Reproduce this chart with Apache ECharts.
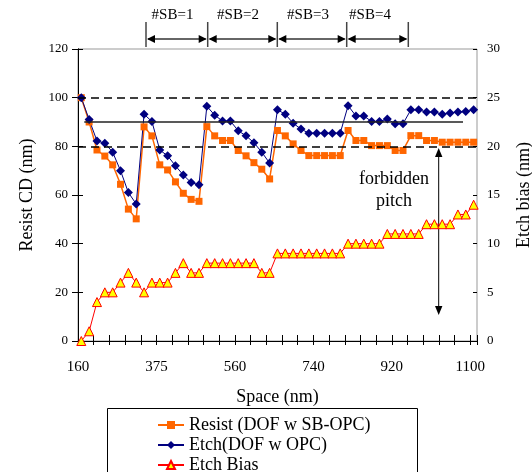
<!DOCTYPE html>
<html><head><meta charset="utf-8">
<script src="https://cdn.jsdelivr.net/npm/echarts@6/dist/echarts.min.js"></script>
<style>html,body{margin:0;padding:0;background:#fff}#c{width:532px;height:472px}</style>
</head><body><div id="c"></div>
<script>
const spaceLabels = ['160','375','560','740','920','1100'];
const seriesNames = ['Resist (DOF w SB-OPC)', 'Etch(DOF w OPC)', 'Etch Bias'];
const resistCD = [100,90,78.5,76,72.4,64.4,54.2,50.2,88,84.3,72.4,70.3,65.4,60.7,58.2,57.4,
  88.1,84.3,82.4,82.4,78.3,76.1,73.3,70.6,66.6,86.5,84.3,81,78.3,76.2,76.2,76.2,76.2,76.2,
  86.5,82.4,82.4,80.3,80.3,80.3,78.3,78.3,84.4,84.4,82.4,82.4,81.7,81.7,81.7,81.7,81.7];
const etchCD = [100,91,82.2,81.3,77.6,70,61,56.3,93.2,90.2,78.5,76.1,72,68.2,65.1,64.2,
  96.5,92.8,90.4,90.4,86.4,84.3,81.5,77.6,73.1,95,93.2,89.5,87.1,85.4,85.4,85.4,85.4,85.4,
  96.7,92.5,92.5,90.2,90.2,91.2,89.3,89.3,95,95,94.1,94.1,93.2,93.7,94.1,94.3,95];
const etchBias = [0,1,4,5,5,6,7,6,5,6,6,6,7,8,7,7,8,8,8,8,8,8,8,7,7,9,9,9,9,9,9,9,9,9,
  10,10,10,10,10,11,11,11,11,11,12,12,12,12,13,13,14];
const dashedLevels = [100, 80];
const solidLevel = 90;
const sbLabels = ['#SB=1','#SB=2','#SB=3','#SB=4'];
const forbiddenText = ['forbidden','pitch'];

const FONT = '"Liberation Serif", "Times New Roman", serif';
const OFFSET = 0.42, XMAX = 50.85;
const toPts = arr => arr.map((v, i) => [i + OFFSET, v]);

const xLabel = v => {
  const r = Math.round(v);
  if (Math.abs(v - r) < 1e-6 && r % 10 === 0 && r / 10 < spaceLabels.length) return spaceLabels[r / 10];
  return '';
};

const chart = echarts.init(document.getElementById('c'), null, {renderer: 'canvas'});

const axisLine = {show: true, lineStyle: {color: '#000', width: 1}};
const legendTops = [416, 436, 456];

const option = {
  animation: false,
  backgroundColor: '#fff',
  grid: {left: 78, right: 55, top: 49, bottom: 131, show: true, borderColor: '#999', borderWidth: 1,
         containLabel: false, outerBoundsMode: 'none'},
  legend: seriesNames.map((n, i) => ({
    data: [n],
    orient: 'horizontal',
    left: 157, top: legendTops[i],
    padding: 0,
    itemWidth: 26, itemHeight: 10,
    textStyle: {fontFamily: FONT, fontSize: 18, color: '#000'}
  })),
  xAxis: [{
    type: 'value', min: 0, max: XMAX, interval: 2,
    axisLine: axisLine,
    axisTick: {show: true, inside: false, length: 4, lineStyle: {color: '#000'}},
    axisLabel: {formatter: xLabel, margin: 19, fontFamily: FONT, fontSize: 15, color: '#000'},
    splitLine: {show: false},
    name: 'Space (nm)', nameLocation: 'middle', nameGap: 47,
    nameTextStyle: {fontFamily: FONT, fontSize: 18, color: '#000'}
  }, {
    type: 'value', min: 0, max: XMAX, interval: 2, position: 'bottom',
    axisLine: {show: false},
    axisTick: {show: true, inside: true, length: 6, lineStyle: {color: '#000'}},
    axisLabel: {show: false}, splitLine: {show: false}
  }],
  yAxis: [{
    type: 'value', min: 0, max: 120, interval: 20, position: 'left',
    axisLine: axisLine,
    axisTick: {show: true, inside: false, length: 6, lineStyle: {color: '#000'}},
    axisLabel: {margin: 10, fontFamily: FONT, fontSize: 13, color: '#000'},
    splitLine: {show: false},
    name: 'Resist CD (nm)', nameLocation: 'middle', nameGap: 42, nameRotate: 90,
    nameTextStyle: {fontFamily: FONT, fontSize: 18, color: '#000'}
  }, {
    type: 'value', min: 0, max: 30, interval: 5, position: 'right',
    axisLine: axisLine,
    axisTick: {show: true, inside: false, length: 5, lineStyle: {color: '#000'}},
    axisLabel: {margin: 10, fontFamily: FONT, fontSize: 13, color: '#000'},
    splitLine: {show: false},
    name: 'Etch bias (nm)', nameLocation: 'middle', nameGap: 38, nameRotate: 90,
    nameTextStyle: {fontFamily: FONT, fontSize: 18, color: '#000'}
  }, {
    type: 'value', min: 0, max: 120, interval: 20, position: 'left',
    axisLine: {show: false},
    axisTick: {show: true, inside: true, length: 3, lineStyle: {color: '#000'}},
    axisLabel: {show: false}, splitLine: {show: false}
  }, {
    type: 'value', min: 0, max: 30, interval: 5, position: 'right',
    axisLine: {show: false},
    axisTick: {show: true, inside: true, length: 4, lineStyle: {color: '#000'}},
    axisLabel: {show: false}, splitLine: {show: false}
  }],
  series: [{
    name: seriesNames[0], type: 'line', xAxisIndex: 0, yAxisIndex: 0,
    data: toPts(resistCD),
    symbol: 'rect', symbolSize: 7,
    itemStyle: {color: '#FF6600'},
    lineStyle: {color: '#FF6600', width: 1.5},
    markLine: {
      silent: true, symbol: ['none', 'none'], label: {show: false},
      data: [
        ...dashedLevels.map(v => ({yAxis: v, lineStyle: {color: '#000', width: 1.5, type: [8, 5]}})),
        [{coord: [0.8, solidLevel], lineStyle: {color: '#222', width: 1.5, type: 'solid'}}, {coord: [49.07, solidLevel]}]
      ]
    }
  }, {
    name: seriesNames[1], type: 'line', xAxisIndex: 0, yAxisIndex: 0,
    data: toPts(etchCD),
    symbol: 'diamond', symbolSize: 9,
    itemStyle: {color: '#000080'},
    lineStyle: {color: '#000080', width: 1}
  }, {
    name: seriesNames[2], type: 'line', xAxisIndex: 0, yAxisIndex: 1,
    data: toPts(etchBias),
    symbol: 'triangle', symbolSize: 9,
    itemStyle: {color: '#FFFF00', borderColor: '#FF0000', borderWidth: 1},
    lineStyle: {color: '#FF0000', width: 1}
  }]
};
chart.setOption(option);

// annotations (layout in pixels)
const sbBars = [146, 207.7, 277.3, 346.7, 408.3];
const sbLabelX = [172.5, 238, 308, 370];
const g = [];
const stroke = '#333';
g.push({type: 'rect', shape: {x: 107.5, y: 408.5, width: 310, height: 80}, style: {fill: 'none', stroke: '#000', lineWidth: 1}, z: -1});
sbBars.forEach(x => g.push({type: 'line', shape: {x1: x, y1: 22, x2: x, y2: 47}, style: {stroke: '#444', lineWidth: 1.5}}));
for (let i = 0; i < 4; i++) {
  const a = sbBars[i], b = sbBars[i + 1], y = 39;
  g.push({type: 'line', shape: {x1: a + 2, y1: y, x2: b - 2, y2: y}, style: {stroke: stroke, lineWidth: 1.5}});
  g.push({type: 'polygon', shape: {points: [[a + 1, y], [a + 9, y - 4], [a + 9, y + 4]]}, style: {fill: '#000'}});
  g.push({type: 'polygon', shape: {points: [[b - 1, y], [b - 9, y - 4], [b - 9, y + 4]]}, style: {fill: '#000'}});
  g.push({type: 'text', x: sbLabelX[i], y: 15, style: {text: sbLabels[i], font: '15px ' + FONT, fill: '#000', align: 'center', verticalAlign: 'middle'}});
}
const ax = 438.7;
g.push({type: 'line', shape: {x1: ax, y1: 152, x2: ax, y2: 311}, style: {stroke: '#000', lineWidth: 1}});
g.push({type: 'polygon', shape: {points: [[ax, 148], [ax - 3.7, 157], [ax + 3.7, 157]]}, style: {fill: '#000'}});
g.push({type: 'polygon', shape: {points: [[ax, 315], [ax - 3.7, 306], [ax + 3.7, 306]]}, style: {fill: '#000'}});
g.push({type: 'text', x: 394, y: 179, style: {text: forbiddenText[0], font: '18px ' + FONT, fill: '#000', align: 'center', verticalAlign: 'middle'}});
g.push({type: 'text', x: 394, y: 201, style: {text: forbiddenText[1], font: '18px ' + FONT, fill: '#000', align: 'center', verticalAlign: 'middle'}});
chart.setOption({graphic: g});
</script>
</body></html>
